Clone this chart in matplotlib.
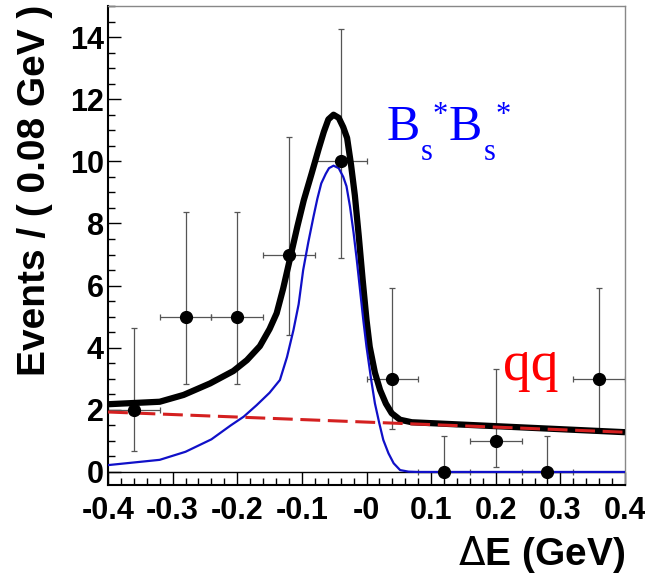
import matplotlib
matplotlib.use("Agg")
import matplotlib.pyplot as plt
from matplotlib.ticker import MultipleLocator, FixedLocator

plt.rcParams['font.family'] = ['Liberation Sans', 'DejaVu Sans']

# Data points (bin centres, 0.08 GeV bins)
bin_centers = [-0.36, -0.28, -0.20, -0.12, -0.04, 0.04, 0.12, 0.20, 0.28, 0.36]
counts = [2, 5, 5, 7, 10, 3, 0, 1, 0, 3]
err_low = [1.32, 2.16, 2.16, 2.58, 3.11, 1.63, 0.0, 0.83, 0.0, 1.63]
err_high = [2.64, 3.38, 3.38, 3.77, 4.26, 2.92, 1.15, 2.30, 1.15, 2.92]
bin_half = [0.04] * 10

# Total fit (black)
total_x = [-0.40, -0.32, -0.283, -0.242, -0.206, -0.185, -0.165, -0.150, -0.139,
           -0.129, -0.118, -0.107, -0.097, -0.085, -0.074, -0.066, -0.059, -0.051,
           -0.043, -0.036, -0.030, -0.024, -0.018, -0.012, -0.006, 0.0, 0.005,
           0.013, 0.021, 0.030, 0.039, 0.052, 0.07, 0.40]
total_y = [2.18, 2.26, 2.48, 2.85, 3.25, 3.6, 4.05, 4.6, 5.11,
           5.9, 6.9, 7.9, 8.75, 9.6, 10.4, 10.95, 11.35, 11.5,
           11.4, 11.1, 10.75, 9.9, 8.9, 7.6, 6.2, 4.9, 4.03,
           3.2, 2.64, 2.2, 1.89, 1.68, 1.6, 1.28]

# Signal B_s* B_s* (blue)
sig_x = [-0.40, -0.32, -0.28, -0.24, -0.21, -0.19, -0.17, -0.15, -0.134, -0.123,
         -0.113, -0.105, -0.098, -0.09, -0.082, -0.076, -0.070, -0.063, -0.058,
         -0.051, -0.043, -0.036, -0.031, -0.0255, -0.020, -0.015, -0.010, -0.005,
         0.0, 0.007, 0.013, 0.02, 0.026, 0.034, 0.042, 0.052, 0.065, 0.08, 0.40]
sig_y = [0.22, 0.39, 0.65, 1.05, 1.5, 1.78, 2.15, 2.55, 2.96, 3.7,
         4.57, 5.4, 6.5, 7.4, 8.22, 8.8, 9.29, 9.6, 9.78,
         9.86, 9.78, 9.5, 9.2, 8.54, 7.7, 6.82, 5.86, 4.9,
         4.03, 3.0, 2.21, 1.55, 1.03, 0.6, 0.28, 0.06, 0.01, 0.0, 0.0]

# qq background (red dashed)
bkg_x = [-0.40, 0.40]
bkg_y = [1.93, 1.28]

xtick_pos = [-0.4, -0.3, -0.2, -0.1, 0.0, 0.1, 0.2, 0.3, 0.4]
xtick_labels = ['-0.4', '-0.3', '-0.2', '-0.1', '-0', '0.1', '0.2', '0.3', '0.4']
ytick_pos = [0, 2, 4, 6, 8, 10, 12, 14]

W, H = 645, 575
fig = plt.figure(figsize=(W / 100, H / 100), dpi=100)
ax = fig.add_axes([108 / W, 1 - 485 / H, 517 / W, 479 / H])

ax.axhline(0, color='black', lw=1.0, zorder=1)
ax.errorbar(bin_centers, counts, yerr=[err_low, err_high], xerr=bin_half,
            fmt='none', ecolor='#555555', elinewidth=0.9, capsize=2.5,
            capthick=0.9, zorder=2)
ax.plot(total_x, total_y, color='black', lw=4.5, solid_capstyle='butt',
        solid_joinstyle='round', zorder=3)
ax.plot(sig_x, sig_y, color='#1010c8', lw=1.6, zorder=4)
ax.plot(bkg_x, bkg_y, color='#d42020', lw=2.2, dashes=(6.5, 2.5), zorder=5)
ax.plot(bin_centers, counts, 'o', color='black', ms=8.5, zorder=6)

# B_s* B_s* label, built piece by piece (ROOT-like sub/superscript placement)
serif = 'Liberation Serif'
def px_text(x, y, s, size, color):
    fig.text(x / W, 1 - y / H, s, fontsize=size, color=color, family=serif,
             ha='left', va='baseline')

px_text(387, 139.5, 'B', 36, '#0000ff')
px_text(421, 160, 's', 22, '#0000ff')
px_text(433, 123, '*', 22, '#0000ff')
px_text(449, 139.5, 'B', 36, '#0000ff')
px_text(484, 160, 's', 22, '#0000ff')
px_text(496, 123, '*', 22, '#0000ff')
px_text(503, 380, 'qq', 40, '#ff0000')

ax.set_xlim(-0.4, 0.4)
ax.set_ylim(-0.42, 15.0)
ax.xaxis.set_major_locator(FixedLocator(xtick_pos))
ax.set_xticklabels(xtick_labels)
ax.xaxis.set_minor_locator(MultipleLocator(0.02))
ax.yaxis.set_major_locator(FixedLocator(ytick_pos))
ax.yaxis.set_minor_locator(MultipleLocator(0.5))

ax.tick_params(axis='both', which='both', direction='in', top=False, right=False)
ax.tick_params(axis='both', which='major', length=9.5, width=1.0, labelsize=22)
ax.tick_params(axis='both', which='minor', length=5, width=1.0)
ax.tick_params(axis='x', which='major', pad=8)
ax.tick_params(axis='y', which='major', pad=3)
for lab in ax.get_xticklabels() + ax.get_yticklabels():
    lab.set_fontweight('bold')

for side in ['left', 'bottom']:
    ax.spines[side].set_color('black')
    ax.spines[side].set_linewidth(1.5)
for side in ['top', 'right']:
    ax.spines[side].set_color('#888888')
    ax.spines[side].set_linewidth(1.0)

fig.text(35 / W, 1 - 5 / H, 'Events / ( 0.08 GeV )', rotation=90,
         ha='center', va='top', fontsize=28, fontweight='bold')
fig.text(625 / W, 1 - 565 / H, r'$\Delta$E (GeV)', ha='right',
         va='baseline', fontsize=28, fontweight='bold')

fig.savefig('out.png', dpi=100)
